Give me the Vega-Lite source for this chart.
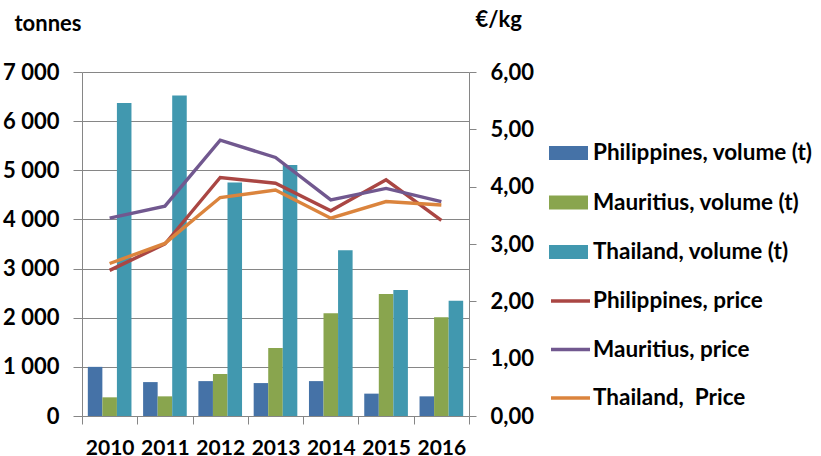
{
  "$schema": "https://vega.github.io/schema/vega-lite/v6.json",
  "width": 387,
  "height": 344,
  "autosize": "none",
  "padding": {"left": 82, "top": 72, "right": 352, "bottom": 40},
  "background": "white",
  "config": {
    "view": {"stroke": null},
    "font": "Lato",
    "axis": {"labelFont": "Lato", "labelFontWeight": "bold", "labelColor": "black", "titleFont": "Lato", "titleFontWeight": "bold", "titleColor": "black", "domainColor": "#868686", "tickColor": "#868686", "gridColor": "#868686"},
    "legend": {"labelFont": "Lato", "labelFontWeight": "bold", "labelColor": "black", "labelLimit": 400}
  },
  "datasets": {
    "vol": [
      {"year": "2010", "series": "Philippines, volume (t)", "volume": 1000},
      {"year": "2010", "series": "Mauritius, volume (t)", "volume": 380},
      {"year": "2010", "series": "Thailand, volume (t)", "volume": 6370},
      {"year": "2011", "series": "Philippines, volume (t)", "volume": 690},
      {"year": "2011", "series": "Mauritius, volume (t)", "volume": 400},
      {"year": "2011", "series": "Thailand, volume (t)", "volume": 6520},
      {"year": "2012", "series": "Philippines, volume (t)", "volume": 710},
      {"year": "2012", "series": "Mauritius, volume (t)", "volume": 855},
      {"year": "2012", "series": "Thailand, volume (t)", "volume": 4750},
      {"year": "2013", "series": "Philippines, volume (t)", "volume": 670},
      {"year": "2013", "series": "Mauritius, volume (t)", "volume": 1385},
      {"year": "2013", "series": "Thailand, volume (t)", "volume": 5110},
      {"year": "2014", "series": "Philippines, volume (t)", "volume": 710},
      {"year": "2014", "series": "Mauritius, volume (t)", "volume": 2090},
      {"year": "2014", "series": "Thailand, volume (t)", "volume": 3375},
      {"year": "2015", "series": "Philippines, volume (t)", "volume": 455},
      {"year": "2015", "series": "Mauritius, volume (t)", "volume": 2485},
      {"year": "2015", "series": "Thailand, volume (t)", "volume": 2565},
      {"year": "2016", "series": "Philippines, volume (t)", "volume": 400},
      {"year": "2016", "series": "Mauritius, volume (t)", "volume": 2010},
      {"year": "2016", "series": "Thailand, volume (t)", "volume": 2345}
    ],
    "price": [
      {"year": "2010", "series": "Philippines, price", "price": 2.54},
      {"year": "2011", "series": "Philippines, price", "price": 3.0},
      {"year": "2012", "series": "Philippines, price", "price": 4.16},
      {"year": "2013", "series": "Philippines, price", "price": 4.06},
      {"year": "2014", "series": "Philippines, price", "price": 3.58},
      {"year": "2015", "series": "Philippines, price", "price": 4.12},
      {"year": "2016", "series": "Philippines, price", "price": 3.41},
      {"year": "2010", "series": "Mauritius, price", "price": 3.45},
      {"year": "2011", "series": "Mauritius, price", "price": 3.66},
      {"year": "2012", "series": "Mauritius, price", "price": 4.81},
      {"year": "2013", "series": "Mauritius, price", "price": 4.51},
      {"year": "2014", "series": "Mauritius, price", "price": 3.77},
      {"year": "2015", "series": "Mauritius, price", "price": 3.97},
      {"year": "2016", "series": "Mauritius, price", "price": 3.74},
      {"year": "2010", "series": "Thailand,\u00a0 Price", "price": 2.66},
      {"year": "2011", "series": "Thailand,\u00a0 Price", "price": 3.01},
      {"year": "2012", "series": "Thailand,\u00a0 Price", "price": 3.81},
      {"year": "2013", "series": "Thailand,\u00a0 Price", "price": 3.94},
      {"year": "2014", "series": "Thailand,\u00a0 Price", "price": 3.45},
      {"year": "2015", "series": "Thailand,\u00a0 Price", "price": 3.74},
      {"year": "2016", "series": "Thailand,\u00a0 Price", "price": 3.68}
    ]
  },
  "encoding": {
    "x": {
      "field": "year", "type": "nominal",
      "scale": {"paddingInner": 0, "paddingOuter": 0},
      "axis": {"title": null, "labelAngle": 0, "labelFontSize": 21, "tickBand": "extent", "tickSize": 8, "labelPadding": 13, "domainColor": "#868686"}
    }
  },
  "layer": [
    {
      "data": {"name": "vol"},
      "mark": {"type": "bar"},
      "encoding": {
        "xOffset": {"field": "series", "type": "nominal", "scale": {"domain": ["Philippines, volume (t)", "Mauritius, volume (t)", "Thailand, volume (t)"], "paddingInner": 0, "paddingOuter": 0.4}},
        "y": {
          "field": "volume", "type": "quantitative",
          "scale": {"domain": [0, 7000]},
          "axis": {"title": "tonnes", "titleAngle": 0, "titleAlign": "left", "titleBaseline": "alphabetic", "titleX": -68, "titleY": -42, "titleFontSize": 22, "values": [0, 1000, 2000, 3000, 4000, 5000, 6000, 7000], "labelExpr": "replace(format(datum.value, ','), ',', ' ')", "labelFontSize": 22, "tickSize": 9, "labelPadding": 14, "grid": true}
        },
        "fill": {
          "field": "series", "type": "nominal",
          "scale": {"domain": ["Philippines, volume (t)", "Mauritius, volume (t)", "Thailand, volume (t)"], "range": ["#4572A7", "#89A54E", "#4198AF"]},
          "legend": {"title": null, "orient": "none", "legendX": 467, "legendY": 61.5, "symbolType": "M-1,-0.36H1V0.36H-1Z", "symbolSize": 1521, "symbolStrokeWidth": 0, "labelFontSize": 22.5, "rowPadding": 18.5, "labelOffset": 5, "padding": 0}
        }
      }
    },
    {
      "data": {"name": "price"},
      "mark": {"type": "line", "strokeWidth": 3.4},
      "encoding": {
        "y": {
          "field": "price", "type": "quantitative",
          "scale": {"domain": [0, 6]},
          "axis": {"orient": "right", "title": "€/kg", "titleAngle": 0, "titleAlign": "left", "titleBaseline": "alphabetic", "titleX": 6, "titleY": -46, "titleFontSize": 22, "values": [0, 1, 2, 3, 4, 5, 6], "labelExpr": "replace(format(datum.value, '.2f'), '.', ',')", "labelFontSize": 22, "tickSize": 7, "labelPadding": 14, "grid": false}
        },
        "stroke": {
          "field": "series", "type": "nominal",
          "scale": {"domain": ["Philippines, price", "Mauritius, price", "Thailand,\u00a0 Price"], "range": ["#AA4643", "#71588F", "#DB843D"]},
          "legend": {"title": null, "orient": "none", "legendX": 467, "legendY": 207.5, "symbolType": "stroke", "symbolSize": 1521, "symbolStrokeWidth": 3.5, "labelFontSize": 22.5, "rowPadding": 15.5, "labelOffset": 1, "padding": 0}
        }
      }
    }
  ],
  "resolve": {"scale": {"y": "independent"}}
}
